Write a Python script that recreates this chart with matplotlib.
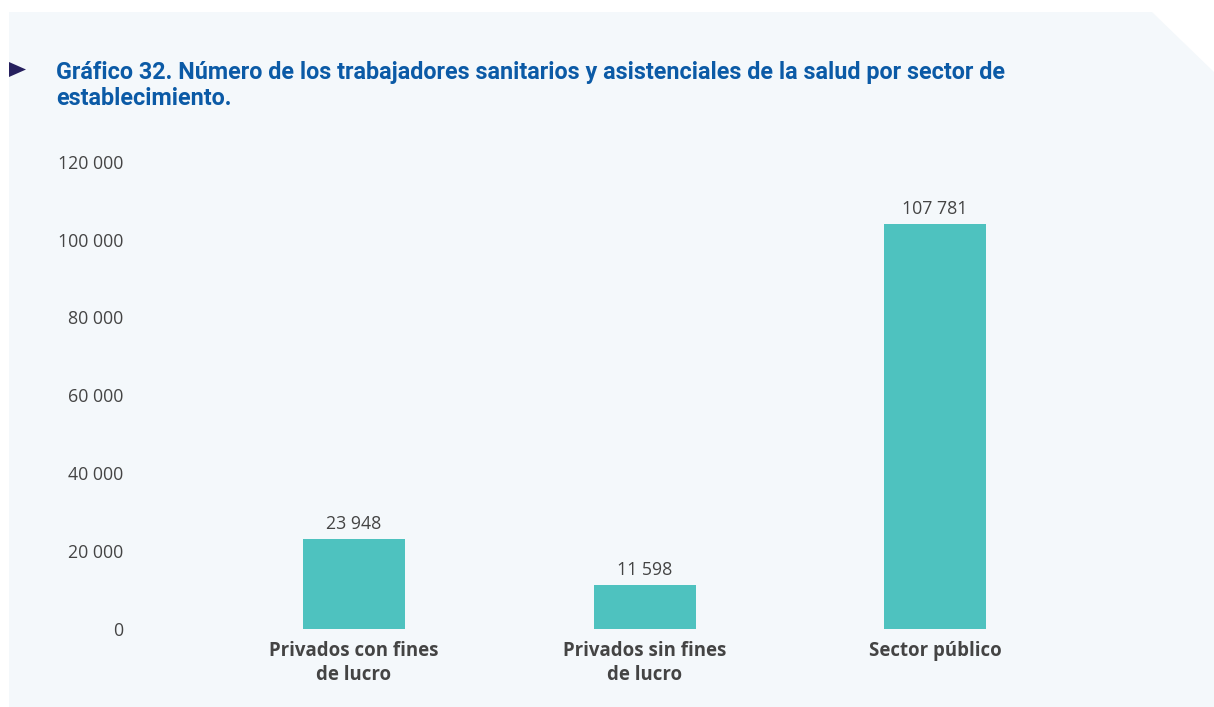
import matplotlib.pyplot as plt
from matplotlib.patches import Polygon

# Trabajadores sanitarios y asistenciales por sector de establecimiento
sectores = [
    "Privados con fines\nde lucro",
    "Privados sin fines\nde lucro",
    "Sector público",
]
trabajadores = [23948, 11598, 107781]
marcas_y = [0, 20000, 40000, 60000, 80000, 100000, 120000]

TITULO = (
    "Gráfico 32. Número de los trabajadores sanitarios y asistenciales "
    "de la salud por sector de\nestablecimiento."
)

COLOR_BARRA = "#4ec2bf"
COLOR_FONDO = "#f4f8fb"
COLOR_TITULO = "#0b5aa6"
COLOR_TEXTO = "#444444"

W, H = 1214, 707


def miles(valor: float) -> str:
    """Formatea con espacio como separador de miles."""
    return f"{int(round(valor)):,}".replace(",", " ")


def px(x: float, y: float) -> tuple[float, float]:
    """Convierte píxeles (origen arriba a la izquierda) a fracción de figura."""
    return x / W, 1 - y / H


fig = plt.figure(figsize=(W / 100, H / 100), dpi=100)
fig.patch.set_facecolor("white")

# Panel de fondo con la esquina superior derecha recortada
panel = Polygon(
    [px(9, 12), px(1152, 12), px(1214, 72), px(1214, 707), px(9, 707)],
    closed=True,
    transform=fig.transFigure,
    facecolor=COLOR_FONDO,
    edgecolor="none",
    zorder=-1,
)
fig.patches.append(panel)

# Viñeta triangular del título
vineta = Polygon(
    [px(9, 62), px(26, 69.5), px(9, 77)],
    closed=True,
    transform=fig.transFigure,
    facecolor="#26205e",
    edgecolor="none",
    zorder=-1,
)
fig.patches.append(vineta)

# El título se alinea por la línea base de su segunda línea
fig.text(
    *px(56, 105),
    TITULO,
    fontsize=16.8,
    fontweight="bold",
    family=["Roboto", "DejaVu Sans"],
    color=COLOR_TITULO,
    ha="left",
    va="baseline",
    linespacing=1.15,
)

ax = fig.add_axes([130 / W, (H - 628.7) / H, 1050 / W, 467 / H])
ax.set_facecolor("none")

posiciones = list(range(len(sectores)))
barras = ax.bar(posiciones, trabajadores, width=0.351, color=COLOR_BARRA, zorder=2)

for barra, valor in zip(barras, trabajadores):
    ax.annotate(
        miles(valor),
        (barra.get_x() + barra.get_width() / 2, valor),
        xytext=(0, 7),
        textcoords="offset points",
        ha="center",
        va="baseline",
        fontsize=12.8,
        family="Open Sans",
        color=COLOR_TEXTO,
    )

ax.set_xlim(-0.771, 2.843)
ax.set_ylim(0, 124400)

ax.set_xticks(posiciones)
ax.set_xticklabels(
    sectores,
    fontsize=13.4,
    fontweight="bold",
    family="Open Sans",
    color=COLOR_TEXTO,
    linespacing=1.22,
)
ax.tick_params(axis="x", length=0, pad=9)

# Las marcas del eje se rotulan en su propia escala vertical
escala = 120000 / 124400
eje_marcas = ax.secondary_yaxis(
    "left",
    functions=(lambda v: v * escala, lambda v: v / escala),
)
eje_marcas.set_yticks(marcas_y)
eje_marcas.set_yticklabels(
    [miles(m) for m in marcas_y],
    fontsize=12.8,
    family="Open Sans",
    color=COLOR_TEXTO,
)
eje_marcas.tick_params(length=0, pad=5)
for lado in eje_marcas.spines.values():
    lado.set_visible(False)

ax.set_yticks([])
for lado in ax.spines.values():
    lado.set_visible(False)

fig.savefig("out.png", dpi=100)
